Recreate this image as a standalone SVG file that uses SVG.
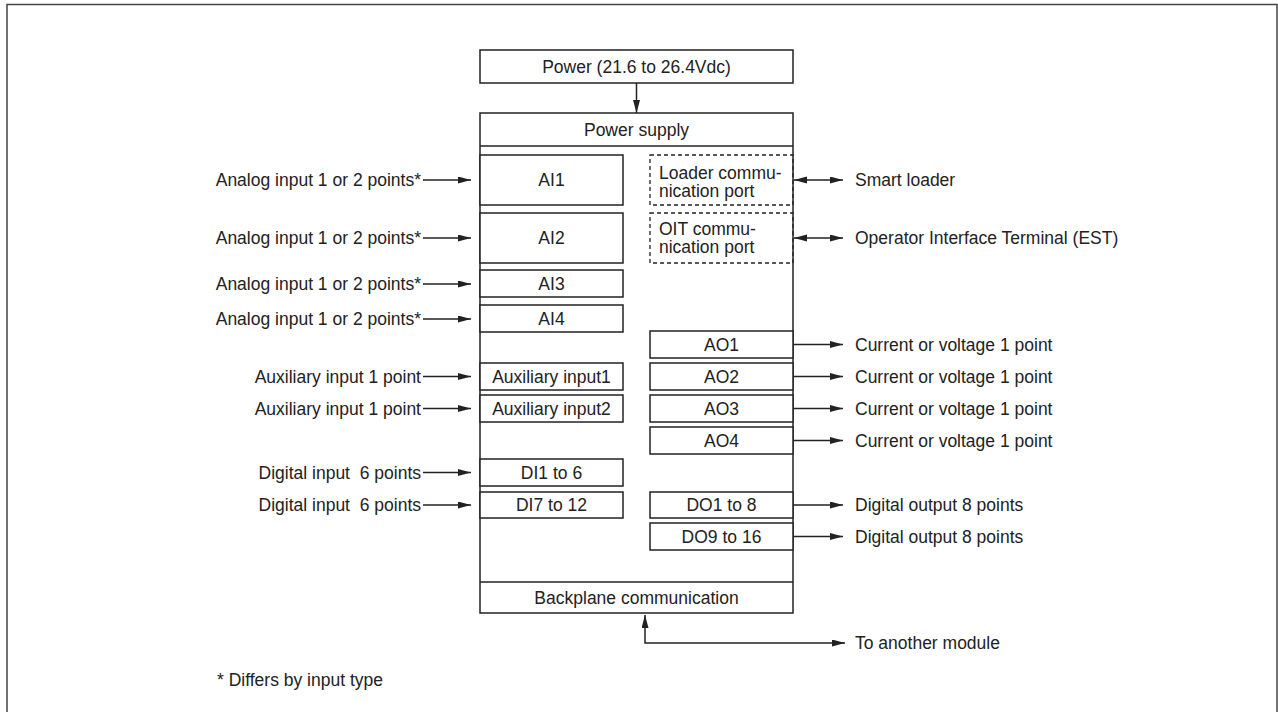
<svg xmlns="http://www.w3.org/2000/svg" width="1278" height="712" viewBox="0 0 1278 712">
  <style>
    text { font-family: "Liberation Sans", Arial, sans-serif; font-size: 17.5px; fill: #222; }
    .c { text-anchor: middle; }
    .r { text-anchor: end; }
    .pre { white-space: pre; }
    .box { fill: #fff; stroke: #222; stroke-width: 1.5; }
    .dash { fill: none; stroke: #222; stroke-width: 1.3; stroke-dasharray: 4 3; }
    .ln { fill: none; stroke: #222; stroke-width: 1.5; }
    .frame { fill: none; stroke: #444; stroke-width: 1.5; }
  </style>
  <defs>
    <marker id="ah" markerUnits="userSpaceOnUse" markerWidth="14" markerHeight="8" refX="13" refY="3.5" orient="auto-start-reverse">
      <path d="M0,0 L13,3.5 L0,7 z" fill="#222"/>
    </marker>
  </defs>

  <rect class="frame" x="7" y="4.5" width="1270" height="720"/>

  <g id="power">
    <rect class="box" x="480" y="50" width="313" height="33"/>
    <text class="c" x="636.5" y="72.5">Power (21.6 to 26.4Vdc)</text>
  </g>

  <g id="module">
    <rect class="box" x="480" y="113" width="313" height="500"/>
    <line class="ln" x1="480" y1="146" x2="793" y2="146"/>
    <text class="c" x="636.5" y="136">Power supply</text>
    <line class="ln" x1="480" y1="582" x2="793" y2="582"/>
    <text class="c" x="636.5" y="604">Backplane communication</text>
  </g>

  <g id="ai1"><rect class="box" x="480" y="155" width="143" height="50"/><text class="c" x="551.5" y="186">AI1</text></g>
  <g id="ai2"><rect class="box" x="480" y="213" width="143" height="50"/><text class="c" x="551.5" y="244">AI2</text></g>
  <g id="ai3"><rect class="box" x="480" y="270" width="143" height="27"/><text class="c" x="551.5" y="289.5">AI3</text></g>
  <g id="ai4"><rect class="box" x="480" y="305" width="143" height="27"/><text class="c" x="551.5" y="324.5">AI4</text></g>
  <g id="aux1"><rect class="box" x="480" y="363" width="143" height="27"/><text class="c" x="551.5" y="382.5">Auxiliary input1</text></g>
  <g id="aux2"><rect class="box" x="480" y="395" width="143" height="27"/><text class="c" x="551.5" y="414.5">Auxiliary input2</text></g>
  <g id="di1"><rect class="box" x="480" y="459" width="143" height="27"/><text class="c" x="551.5" y="478.5">DI1 to 6</text></g>
  <g id="di7"><rect class="box" x="480" y="492" width="143" height="26"/><text class="c" x="551.5" y="511">DI7 to 12</text></g>

  <g id="loader-port">
    <rect class="dash" x="650" y="155" width="143" height="50"/>
    <text x="659" y="179">Loader commu-</text>
    <text x="659" y="197">nication port</text>
  </g>
  <g id="oit-port">
    <rect class="dash" x="650" y="213" width="143" height="50"/>
    <text x="659" y="235">OIT commu-</text>
    <text x="659" y="253">nication port</text>
  </g>

  <g id="ao1"><rect class="box" x="650" y="331" width="143" height="27"/><text class="c" x="721.5" y="350.5">AO1</text></g>
  <g id="ao2"><rect class="box" x="650" y="363" width="143" height="27"/><text class="c" x="721.5" y="382.5">AO2</text></g>
  <g id="ao3"><rect class="box" x="650" y="395" width="143" height="27"/><text class="c" x="721.5" y="414.5">AO3</text></g>
  <g id="ao4"><rect class="box" x="650" y="427" width="143" height="27"/><text class="c" x="721.5" y="446.5">AO4</text></g>
  <g id="do1"><rect class="box" x="650" y="492" width="143" height="26"/><text class="c" x="721.5" y="511">DO1 to 8</text></g>
  <g id="do9"><rect class="box" x="650" y="523" width="143" height="27"/><text class="c" x="721.5" y="542.5">DO9 to 16</text></g>

  <g id="connectors">
    <line class="ln" x1="636.5" y1="83" x2="636.5" y2="113" marker-end="url(#ah)"/>

    <line class="ln" x1="423" y1="180" x2="471" y2="180" marker-end="url(#ah)"/>
    <line class="ln" x1="423" y1="238" x2="471" y2="238" marker-end="url(#ah)"/>
    <line class="ln" x1="423" y1="284" x2="471" y2="284" marker-end="url(#ah)"/>
    <line class="ln" x1="423" y1="319" x2="471" y2="319" marker-end="url(#ah)"/>
    <line class="ln" x1="423" y1="376.5" x2="471" y2="376.5" marker-end="url(#ah)"/>
    <line class="ln" x1="423" y1="408.5" x2="471" y2="408.5" marker-end="url(#ah)"/>
    <line class="ln" x1="423" y1="472.5" x2="471" y2="472.5" marker-end="url(#ah)"/>
    <line class="ln" x1="423" y1="505" x2="471" y2="505" marker-end="url(#ah)"/>

    <line class="ln" x1="794" y1="180" x2="843" y2="180" marker-start="url(#ah)" marker-end="url(#ah)"/>
    <line class="ln" x1="794" y1="238" x2="843" y2="238" marker-start="url(#ah)" marker-end="url(#ah)"/>

    <line class="ln" x1="793" y1="344.5" x2="843" y2="344.5" marker-end="url(#ah)"/>
    <line class="ln" x1="793" y1="376.5" x2="843" y2="376.5" marker-end="url(#ah)"/>
    <line class="ln" x1="793" y1="408.5" x2="843" y2="408.5" marker-end="url(#ah)"/>
    <line class="ln" x1="793" y1="440.5" x2="843" y2="440.5" marker-end="url(#ah)"/>
    <line class="ln" x1="793" y1="505" x2="843" y2="505" marker-end="url(#ah)"/>
    <line class="ln" x1="793" y1="536.5" x2="843" y2="536.5" marker-end="url(#ah)"/>

    <polyline class="ln" points="845,643 645,643 645,615" marker-start="url(#ah)" marker-end="url(#ah)"/>
  </g>

  <g id="labels">
    <text class="r" x="421" y="186">Analog input 1 or 2 points*</text>
    <text class="r" x="421" y="244">Analog input 1 or 2 points*</text>
    <text class="r" x="421" y="290">Analog input 1 or 2 points*</text>
    <text class="r" x="421" y="325">Analog input 1 or 2 points*</text>
    <text class="r" x="421" y="382.5">Auxiliary input 1 point</text>
    <text class="r" x="421" y="414.5">Auxiliary input 1 point</text>
    <text class="r pre" x="421" y="478.5">Digital input  6 points</text>
    <text class="r pre" x="421" y="511">Digital input  6 points</text>

    <text x="855" y="186">Smart loader</text>
    <text x="855" y="244">Operator Interface Terminal (EST)</text>
    <text x="855" y="350.5">Current or voltage 1 point</text>
    <text x="855" y="382.5">Current or voltage 1 point</text>
    <text x="855" y="414.5">Current or voltage 1 point</text>
    <text x="855" y="446.5">Current or voltage 1 point</text>
    <text x="855" y="511">Digital output 8 points</text>
    <text x="855" y="542.5">Digital output 8 points</text>
    <text x="855" y="649">To another module</text>

    <text x="217" y="686">* Differs by input type</text>
  </g>
</svg>
